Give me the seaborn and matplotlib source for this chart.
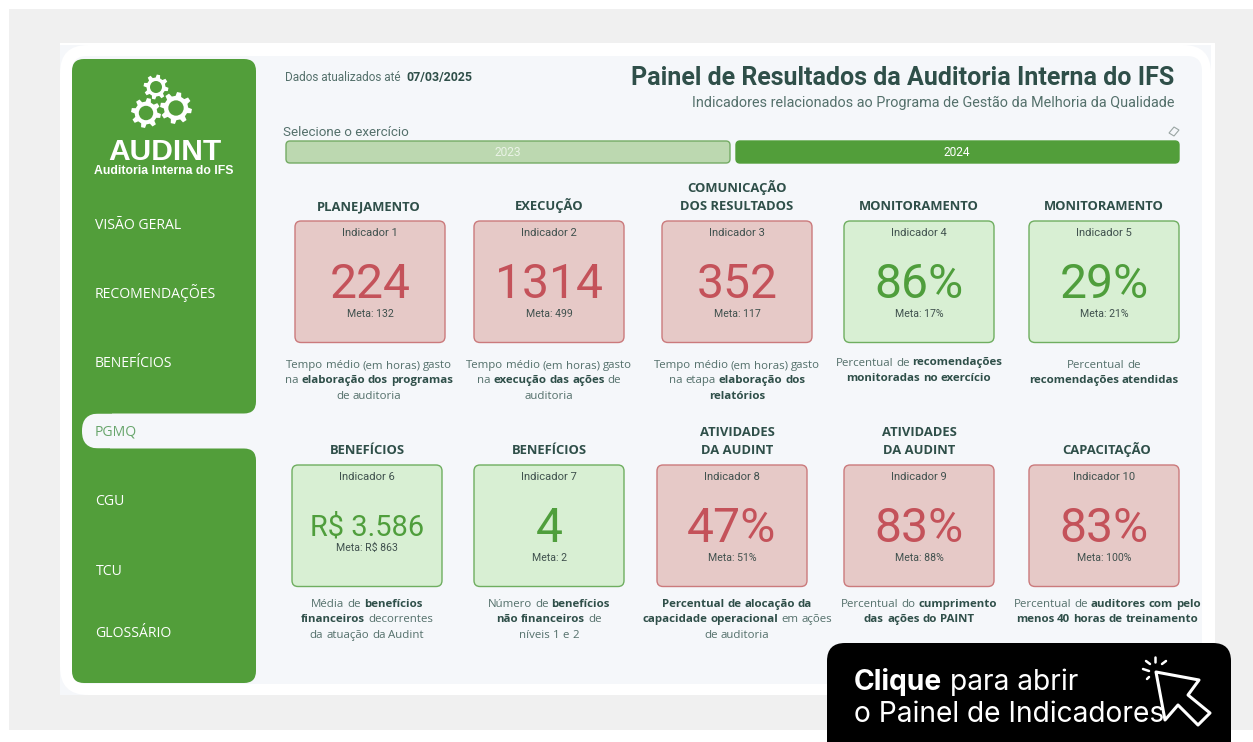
import numpy as np
import seaborn as sns
import matplotlib.pyplot as plt
from matplotlib.patches import FancyBboxPatch, Rectangle, Polygon, Circle

sns.set_theme(style="white")
plt.rcParams['font.family'] = ['Open Sans', 'DejaVu Sans']

# Data
sections_top = ['PLANEJAMENTO', 'EXECUÇÃO', 'COMUNICAÇÃO\nDOS RESULTADOS', 'MONITORAMENTO', 'MONITORAMENTO']
sections_bottom = ['BENEFÍCIOS', 'BENEFÍCIOS', 'ATIVIDADES\nDA AUDINT', 'ATIVIDADES\nDA AUDINT', 'CAPACITAÇÃO']
values_top = ['224', '1314', '352', '86%', '29%']
values_bottom = ['R$ 3.586', '4', '47%', '83%', '83%']
metas_top = ['132', '499', '117', '17%', '21%']
metas_bottom = ['R$ 863', '2', '51%', '88%', '100%']
hit_top = [False, False, False, True, True]
hit_bottom = [True, True, False, False, False]
desc_top = [
    ['Tempo médio (em horas) gasto', 'na **elaboração dos programas**', 'de auditoria'],
    ['Tempo médio (em horas) gasto', 'na **execução das ações** de', 'auditoria'],
    ['Tempo médio (em horas) gasto', 'na etapa **elaboração dos**', '**relatórios**'],
    ['Percentual de **recomendações**', '**monitoradas no exercício**'],
    ['Percentual de', '**recomendações atendidas**'],
]
desc_bottom = [
    ['Média de **benefícios**', '**financeiros** decorrentes', 'da atuação da Audint'],
    ['Número de **benefícios**', '**não financeiros** de', 'níveis 1 e 2'],
    ['**Percentual de alocação da**', '**capacidade operacional** em ações', 'de auditoria'],
    ['Percentual do **cumprimento**', '**das ações do PAINT**'],
    ['Percentual de **auditores com pelo**', '**menos 40 horas de treinamento**'],
]
menu_items = ['VISÃO GERAL', 'RECOMENDAÇÕES', 'BENEFÍCIOS', 'PGMQ', 'CGU', 'TCU', 'GLOSSÁRIO']
years = ['2023', '2024']

# Layout
card_x_top = [295, 474, 662, 844, 1029]
card_x_bottom = [292, 474, 657, 844, 1029]
text_x_top = [369, 549, 737, 919, 1104]
text_x_bottom = [367, 549, 737, 919, 1107]
menu_y = [224, 293, 362, 430.5, 500, 570, 632]
menu_x = [95, 95, 95, 95, 95.5, 95.5, 95.5]

GREEN = '#529e3a'
PANEL = '#f5f7fa'
DARK = '#2f4f49'
SOFT = '#54706b'
NUM_FONT = 'Roboto'

fig = plt.figure(figsize=(12.53, 7.42), dpi=100, facecolor='white')
ax = fig.add_axes([0, 0, 1, 1])
ax.set_xlim(0, 1253)
ax.set_ylim(742, 0)
ax.axis('off')


def px(size):
    return size * 0.72


def rbox(x0, y0, x1, y1, r, fc, ec='none', lw=0, z=1):
    p = FancyBboxPatch((x0, y0), x1 - x0, y1 - y0, boxstyle=f'round,pad=0,rounding_size={r}',
                       fc=fc, ec=ec, lw=lw, zorder=z)
    ax.add_patch(p)


def width_of(s, **kw):
    t = ax.text(0, 0, s, **kw)
    w = t.get_window_extent(renderer).width
    t.remove()
    return w


def advance(s, **kw):
    # bars on both sides so side bearings are counted too
    return width_of('|' + s + '|', **kw) - width_of('||', **kw)


def rich_line(cx, y, line, size):
    # splits **bold** parts and centres the whole line on cx
    parts = line.split('**')
    words = []
    for i, p in enumerate(parts):
        for w in p.split():
            words.append((w, i % 2 == 1))
    reg = dict(fontsize=px(size))
    bld = dict(fontsize=px(size), fontweight='bold')
    space = advance(' ', **reg)
    widths = [advance(w, **(bld if b else reg)) for w, b in words]
    x = cx - (sum(widths) + space * (len(words) - 1)) / 2
    for (w, b), wd in zip(words, widths):
        ax.text(x, y, w, color=DARK if b else SOFT, va='baseline', ha='left', zorder=5,
                **(bld if b else reg))
        x += wd + space


def gear(cx, cy, r, teeth=8):
    angles = []
    radii = []
    step = 2 * np.pi / teeth
    for i in range(teeth):
        a = i * step + 0.2
        angles += [a - step * 0.30, a - step * 0.17, a + step * 0.17, a + step * 0.30]
        radii += [r * 0.76, r, r, r * 0.76]
    pts = np.column_stack([cx + np.array(radii) * np.cos(angles), cy + np.array(radii) * np.sin(angles)])
    ax.add_patch(Polygon(pts, fc='white', ec='none', zorder=3))
    ax.add_patch(Circle((cx, cy), r * 0.48, fc=GREEN, ec='none', zorder=4))


def draw_row(xs, tx, y0, first, sections, values, metas, hits, descs, desc_y, val_sizes):
    for i in range(5):
        x0 = xs[i]
        cx = x0 + 75
        fill, edge, vc = ('#d8efd3', '#6fae60', '#4f9e3c') if hits[i] else ('#e6c9c7', '#cb7a7c', '#c4525a')
        rbox(x0, y0, x0 + 150, y0 + 121.5, 6, fill, edge, 1.0, z=2)
        lines = sections[i].split('\n')
        for j, ln in enumerate(reversed(lines)):
            ax.text(tx[i], y0 - 11 - j * 18, ln, ha='center', va='baseline', fontsize=px(13),
                    fontweight='bold', color=DARK, zorder=5)
        ax.text(cx, y0 + 14.5, f'Indicador {first + i}', ha='center', va='baseline',
                fontsize=px(11.3), color='#40514e', family=NUM_FONT, zorder=5)
        ax.text(cx, y0 + 77 if val_sizes[i] > 40 else y0 + 70, values[i], ha='center', va='baseline',
                fontsize=px(val_sizes[i]), color=vc, family=NUM_FONT, zorder=5)
        ax.text(cx, y0 + (96 if val_sizes[i] > 40 else 86), f'Meta: {metas[i]}', ha='center', va='baseline',
                fontsize=px(10.5), color='#40514e', family=NUM_FONT, zorder=5)
        for j, ln in enumerate(descs[i]):
            rich_line(tx[i], desc_y[i] + j * 15.3, ln, 11.45)


renderer = fig.canvas.get_renderer()

# Page background
ax.add_patch(Rectangle((9, 9), 1244, 721, fc='#f0f0f0', ec='none', zorder=0))
ax.add_patch(Rectangle((60, 43), 1155, 652, fc='white', ec='none', zorder=0.4))
ax.add_patch(Rectangle((60, 45), 1151, 650, fc=PANEL, ec='none', zorder=0.5))
rbox(60, 45, 1211, 695, 28, 'white', z=0.6)
rbox(72, 56, 1202, 684, 15, PANEL, z=0.7)

# Sidebar
ax.add_patch(Rectangle((72, 395), 40, 72, fc=GREEN, ec='none', zorder=0.9))
rbox(82, 413.5, 140, 448.5, 17, PANEL, z=1)
ax.add_patch(Rectangle((110, 413.5), 40, 35, fc=PANEL, ec='none', zorder=1))
rbox(72, 59, 256, 413.5, 12, GREEN, z=1.3)
rbox(72, 448.5, 256, 683, 12, GREEN, z=1.3)

gear(156, 87, 12.5)
gear(146, 113, 15)
gear(176, 108, 16)
ax.text(165, 160, 'AUDINT', ha='center', va='baseline', fontsize=px(30), fontweight='bold',
        color='white', family='Liberation Sans', zorder=4)
ax.text(163.5, 174.5, 'Auditoria Interna do IFS', ha='center', va='baseline', fontsize=px(12.2),
        fontweight='bold', color='white', family='Liberation Sans', zorder=4)

for name, x, y in zip(menu_items, menu_x, menu_y):
    ax.text(x, y + 5, name, ha='left', va='baseline', fontsize=px(14), zorder=4,
            color='#67a56b' if name == 'PGMQ' else 'white')

# Header
ax.text(285, 81, 'Dados atualizados até', ha='left', va='baseline', fontsize=px(11.8), color=SOFT, family=NUM_FONT)
ax.text(406, 81, '07/03/2025', ha='left', va='baseline', fontsize=px(12.4), color=DARK, family=NUM_FONT,
        fontweight='bold')
ax.text(1174, 85, 'Painel de Resultados da Auditoria Interna do IFS', ha='right', va='baseline',
        fontsize=px(25), fontweight='bold', color=DARK, family=NUM_FONT)
ax.text(1175, 107, 'Indicadores relacionados ao Programa de Gestão da Melhoria da Qualidade', ha='right',
        va='baseline', fontsize=px(14.35), color=SOFT, family=NUM_FONT)

# Year selector
ax.text(283, 136, 'Selecione o exercício', ha='left', va='baseline', fontsize=px(13.4), color=SOFT, family=NUM_FONT)
rbox(286, 141, 730, 163, 4, '#bcd8b0', '#74ab64', 1, z=2)
rbox(736, 141, 1179, 163, 4, GREEN, GREEN, 1, z=2)
ax.text(508, 156.5, years[0], ha='center', va='baseline', fontsize=px(12), color='#eaf3e6', family=NUM_FONT, zorder=5)
ax.text(957, 156.5, years[1], ha='center', va='baseline', fontsize=px(12), color='white', family=NUM_FONT, zorder=5)
ax.add_patch(Polygon([(1169, 133), (1174, 127), (1179, 130), (1174, 136)], fc='none', ec='#9aa5a3', lw=0.8, zorder=5))

# Cards
draw_row(card_x_top, text_x_top, 221, 1, sections_top, values_top, metas_top, hit_top, desc_top,
         [368, 368, 368, 365.5, 368], [48, 48, 48, 48, 48])
draw_row(card_x_bottom, text_x_bottom, 465, 6, sections_bottom, values_bottom, metas_bottom, hit_bottom, desc_bottom,
         [607, 607, 607, 607, 607], [29, 48, 48, 48, 48])

# Call to action
rbox(827, 643, 1231, 760, 18, 'black', z=6)
ax.text(854, 689.5, 'Clique', ha='left', va='baseline', fontsize=px(28.2), fontweight='bold', color='white',
        family='Inter', zorder=7)
ax.text(950, 689.5, 'para abrir', ha='left', va='baseline', fontsize=px(28.2), color='white', family='Inter', zorder=7)
ax.text(854, 722.5, 'o Painel de Indicadores', ha='left', va='baseline', fontsize=px(28.2), color='white',
        family='Inter', zorder=7)
cursor = [(1156, 672), (1199, 680), (1188, 695), (1210, 713), (1198, 725), (1178, 705), (1165, 720)]
ax.add_patch(Polygon(cursor, closed=True, fc='black', ec='white', lw=2.2, joinstyle='round', zorder=8))
for xa, ya, xb, yb in [(1155, 657, 1155, 662), (1166, 661, 1162, 664), (1143, 669, 1149, 671),
                       (1146, 661, 1150, 664), (1147, 679, 1149, 677)]:
    ax.plot([xa, xb], [ya, yb], color='white', lw=1.8, solid_capstyle='round', zorder=8)

fig.savefig('out.png', dpi=100)
